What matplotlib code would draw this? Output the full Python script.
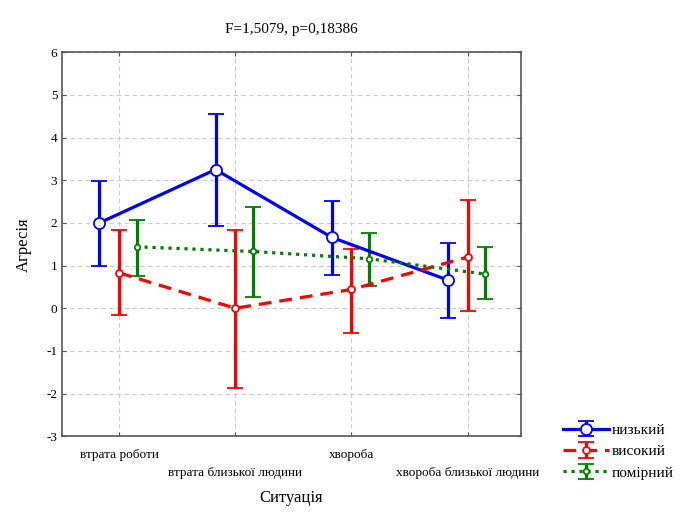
import numpy as np
import matplotlib.pyplot as plt

plt.rcParams['font.family'] = ['Liberation Serif', 'DejaVu Serif']
plt.rcParams['axes.unicode_minus'] = False

situations = ["втрата роботи", "втрата близької людини", "хвороба", "хвороба близької людини"]
groups = ["низький", "високий", "помірний"]

# means and confidence limits
low_mean = [2.00, 3.25, 1.66, 0.66]
low_lo = [0.98, 1.93, 0.77, -0.23]
low_hi = [2.98, 4.55, 2.51, 1.53]

high_mean = [0.83, 0.00, 0.44, 1.20]
high_lo = [-0.16, -1.87, -0.59, -0.07]
high_hi = [1.83, 1.83, 1.38, 2.53]

mid_mean = [1.44, 1.33, 1.16, 0.80]
mid_lo = [0.75, 0.26, 0.52, 0.21]
mid_hi = [2.06, 2.37, 1.77, 1.44]

fig = plt.figure(figsize=(6.83, 5.12), dpi=100)
ax = fig.add_axes([0.091, 0.148, 0.672, 0.750])

x = np.arange(len(situations))

series = [
    (low_mean, low_lo, low_hi, -0.17, "#0000ff", "-", 8),
    (high_mean, high_lo, high_hi, 0.0, "#ff0000", (0, (4, 2.5)), 5),
    (mid_mean, mid_lo, mid_hi, 0.15, "#008000", (0, (1, 1.5)), 4),
]

handles = []
for (m, lo, hi, off, col, ls, ms), name in zip(series, groups):
    m = np.array(m)
    yerr = [m - np.array(lo), np.array(hi) - m]
    h = ax.errorbar(x + off, m, yerr=yerr, color=col, linestyle=ls, linewidth=2.3,
                    elinewidth=2.3, capsize=6, capthick=2.3,
                    marker="o", markersize=ms, markerfacecolor="white",
                    markeredgecolor=col, markeredgewidth=1.3, label=name, zorder=3)
    handles.append(h)

ax.set_xlim(-0.49, 3.46)
ax.set_ylim(-3, 6)
ax.set_yticks(range(-3, 7))
ax.set_xticks(x)
ax.set_xticklabels(situations, fontsize=8)
for i, t in enumerate(ax.xaxis.get_major_ticks()):
    t.set_pad(9 if i % 2 == 0 else 22)

ax.tick_params(direction="in", length=3, top=True, right=True, labelsize=9.5, color="#555555")
ax.grid(True, linestyle=(0, (4, 3)), color="#cccccc", linewidth=0.8)
for s in ax.spines.values():
    s.set_color("#555555")
    s.set_linewidth(1.2)

ax.set_title("F=1,5079, p=0,18386", fontsize=11, pad=14)
ax.set_ylabel("Агресія", fontsize=12, labelpad=10)
ax.set_xlabel("Ситуація", fontsize=12, labelpad=8)

fig.legend(handles=handles, labels=groups, loc="lower right",
           bbox_to_anchor=(1.0, 0.045), frameon=False, fontsize=11,
           handlelength=3.0, handletextpad=0.2, labelspacing=0.5,
           borderaxespad=0.2)

fig.savefig("out.png", dpi=100)
